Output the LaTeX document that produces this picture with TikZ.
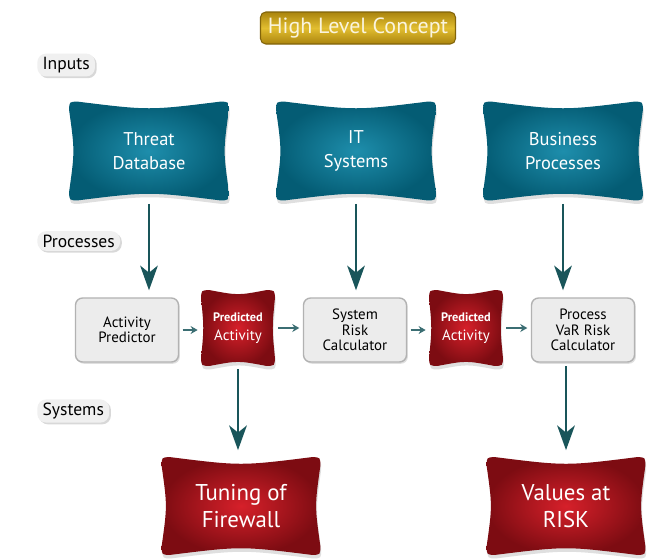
\documentclass[tikz,border=0pt]{standalone}
\usepackage{fontspec}
\setmainfont{PT Sans}
\usetikzlibrary{arrows.meta,calc,backgrounds,shadows}

\definecolor{tealdark}{RGB}{4,92,116}
\definecolor{teallight}{RGB}{30,142,172}
\definecolor{reddark}{RGB}{125,12,18}
\definecolor{redlight}{RGB}{214,32,42}
\definecolor{golddark}{RGB}{170,132,14}
\definecolor{goldlight}{RGB}{226,190,48}
\definecolor{goldedge}{RGB}{130,100,10}
\definecolor{arrowteal}{RGB}{25,85,90}
\definecolor{boxgray}{RGB}{236,236,236}
\definecolor{titletext}{RGB}{250,244,222}

\tikzset{
  banner/.style={minimum width=3.18cm, minimum height=1.96cm, inner sep=0pt,
    align=center, text=white, font=\fontsize{10.5}{14}\selectfont},
  calcbox/.style={draw=black!30, line width=0.8pt, fill=boxgray, rounded corners=4pt,
    minimum width=2.06cm, minimum height=1.28cm, inner sep=1pt, align=center,
    font=\fontsize{8.5}{8.8}\selectfont,
    drop shadow={opacity=0.25, shadow xshift=0.8pt, shadow yshift=-1pt}},
  predbox/.style={minimum width=1.46cm, minimum height=1.5cm, inner sep=0pt,
    align=center, text=white, font=\fontsize{8.5}{10.5}\selectfont},
  tag/.style={fill=black!6, rounded corners=5pt, inner xsep=3pt, inner ysep=2pt,
    anchor=west, font=\fontsize{10}{10}\selectfont,
    drop shadow={opacity=0.3, shadow xshift=1pt, shadow yshift=-1pt}},
  bigarrow/.style={arrowteal, line width=1.6pt, shorten <=2pt, shorten >=4pt,
    -{Stealth[length=14pt, width=10pt, inset=4pt]}},
  smallarrow/.style={arrowteal!85, line width=0.9pt, shorten <=2pt, shorten >=2pt,
    -{Stealth[length=4pt, width=4.5pt]}},
}

\begin{document}
\begin{tikzpicture}[x=0.02cm, y=-0.02cm]
  \useasboundingbox (0,0) rectangle (661,559);

  % title
  \node (title) at (358,28) [draw=goldedge, line width=0.6pt, rounded corners=3pt,
    top color=golddark, bottom color=golddark, middle color=goldlight,
    minimum width=3.9cm, minimum height=0.62cm, text=titletext,
    font=\fontsize{12.5}{12.5}\selectfont] {High Level Concept};

  % row labels
  \node (inputs) [tag] at (37,65) {Inputs};
  \node (processes) [tag] at (37,241) {Processes};
  \node (systems) [tag] at (37,411) {Systems};

  % inputs
  \node (threat) [banner] at (149,151) {Threat\\Database};
  \node (itsys) [banner] at (356,151) {IT\\Systems};
  \node (busproc) [banner] at (563,151) {Business\\Processes};

  % processes
  \node (actpred) [calcbox] at (127,330) {Activity\\Predictor};
  \node (predA) [predbox] at (238,328) {{\fontsize{7}{7}\selectfont\bfseries Predicted}\\Activity};
  \node (syscalc) [calcbox] at (355,330) {System\\Risk\\Calculator};
  \node (predB) [predbox] at (466,328) {{\fontsize{7}{7}\selectfont\bfseries Predicted}\\Activity};
  \node (varcalc) [calcbox] at (583,330) {Process\\VaR Risk\\Calculator};

  % systems
  \node (tuning) [banner, minimum width=3.16cm, minimum height=1.94cm,
    font=\fontsize{13}{15.5}\selectfont] at (241,506) {Tuning of\\Firewall};
  \node (varisk) [banner, minimum width=3.16cm, minimum height=1.94cm,
    font=\fontsize{13}{15.5}\selectfont] at (566,506) {Values at\\RISK};

  % curved banner shapes behind the texts
  \begin{scope}[on background layer]
    \fill[white] (0,0) rectangle (661,559);
    \foreach \nd/\col/\s/\t in {threat/teal/2.5pt/1.6pt, itsys/teal/2.5pt/1.6pt, busproc/teal/2.5pt/1.6pt,
                                predA/red/1.5pt/0.8pt, predB/red/1.5pt/0.8pt,
                                tuning/red/2.5pt/1.6pt, varisk/red/2.5pt/1.6pt}
      \path[inner color=\col light, outer color=\col dark,
            drop shadow={opacity=0.25, shadow xshift=0.5pt, shadow yshift=-2pt}]
        let \p1=(\nd.north west), \p2=(\nd.south east) in
        (\x1+5pt,\y1) .. controls ({(\x1+\x2)/2},\y1-2*\s) .. (\x2-5pt,\y1)
        .. controls (\x2,\y1) .. (\x2,\y1-5pt)
        .. controls (\x2-2*\t,{(\y1+\y2)/2}) .. (\x2,\y2+5pt)
        .. controls (\x2,\y2) .. (\x2-5pt,\y2)
        .. controls ({(\x1+\x2)/2},\y2+2*\s) .. (\x1+5pt,\y2)
        .. controls (\x1,\y2) .. (\x1,\y2+5pt)
        .. controls (\x1+2*\t,{(\y1+\y2)/2}) .. (\x1,\y1-5pt)
        .. controls (\x1,\y1) .. (\x1+5pt,\y1) -- cycle;
  \end{scope}

  % inputs feed the calculators
  \draw[bigarrow] (threat.south) -- (threat.south |- actpred.north);
  \draw[bigarrow] (itsys.south) -- (itsys.south |- syscalc.north);
  \draw[bigarrow] (busproc.south) -- (busproc.south |- varcalc.north);

  % chain of processes
  \draw[smallarrow] (actpred.east) -- (actpred.east -| predA.west);
  \draw[smallarrow] (predA.east) -- (predA.east -| syscalc.west);
  \draw[smallarrow] (syscalc.east) -- (syscalc.east -| predB.west);
  \draw[smallarrow] (predB.east) -- (predB.east -| varcalc.west);

  % outputs
  \draw[bigarrow] (predA.south) -- (predA.south |- tuning.north);
  \draw[bigarrow] (varisk.north |- varcalc.south) -- (varisk.north);

\end{tikzpicture}
\end{document}
